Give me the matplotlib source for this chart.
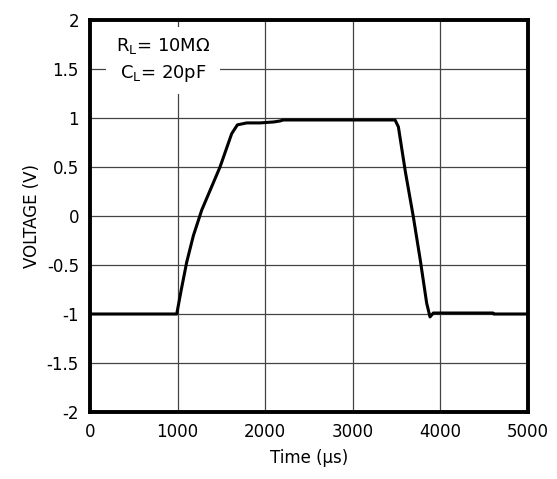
"""Voltage step response, RL=10MOhm CL=20pF"""
import matplotlib
matplotlib.use("Agg")
import matplotlib.pyplot as plt

plt.rcParams.update({'font.size': 12, 'font.family': 'DejaVu Sans'})

# trace
time_us = [0, 990, 1040, 1104, 1180, 1275, 1484, 1617, 1682,
           1789, 1941, 2100, 2169, 2207, 3000, 3482, 3520, 3600, 3691, 3770,
           3843, 3881, 3919, 4200, 4600, 4610, 5000]
voltage = [-1.0, -1.0, -0.76, -0.47, -0.2, 0.06, 0.50, 0.84, 0.93,
           0.95, 0.95, 0.96, 0.97, 0.98, 0.98, 0.98, 0.91, 0.45, -0.01, -0.45,
           -0.89, -1.03, -0.99, -0.99, -0.99, -1.0, -1.0]

x_ticks = [0, 1000, 2000, 3000, 4000, 5000]
y_ticks = [-2, -1.5, -1, -0.5, 0, 0.5, 1, 1.5, 2]
y_tick_labels = ["-2", "-1.5", "-1", "-0.5", "0", "0.5", "1", "1.5", "2"]

fig = plt.figure(figsize=(5.57, 4.79), dpi=100)
ax = fig.add_axes([0.1616, 0.1399, 0.7864, 0.8183])

ax.plot(time_us, voltage, color="black", linewidth=2.2, zorder=3)

ax.set_xlim(0, 5000)
ax.set_ylim(-2, 2)
ax.set_xticks(x_ticks)
ax.set_yticks(y_ticks)
ax.set_yticklabels(y_tick_labels)
ax.tick_params(length=0, pad=8)
ax.grid(True, color="#444444", linewidth=0.9)
for sp in ax.spines.values():
    sp.set_linewidth(2.8)

ax.text(833, 1.59, "R$_\\mathregular{L}$= 10MΩ\nC$_\\mathregular{L}$= 20pF",
        ha="center", va="center", linespacing=1.5, zorder=4, fontsize=13,
        bbox=dict(facecolor="white", edgecolor="none", pad=7))

ax.set_xlabel("Time (µs)", labelpad=6)
ax.set_ylabel("VOLTAGE (V)", labelpad=4)

fig.savefig("out.png", dpi=100)
